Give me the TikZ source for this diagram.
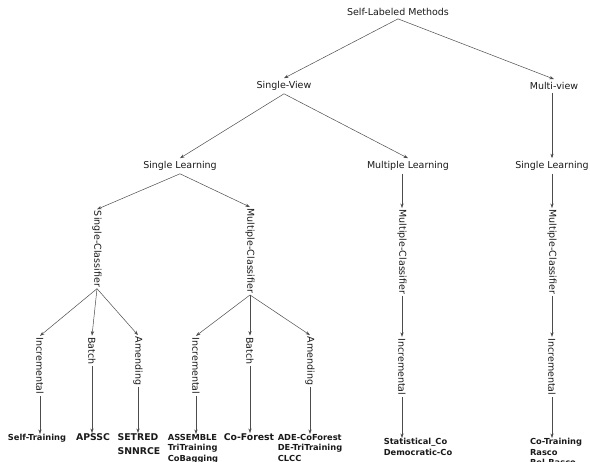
\documentclass[tikz,border=0pt]{standalone}
\usepackage{fontspec}
\setmainfont{DejaVu Sans}
\usetikzlibrary{arrows.meta}

\begin{document}
\begin{tikzpicture}[x=1pt,y=-1pt,
    lbl/.style={font=\fontsize{9.5}{11}\selectfont, text=black!90, inner sep=3pt},
    vlbl/.style={lbl, rotate=-90, inner sep=1.5pt},
    leaf/.style={font=\fontsize{8.3}{10.6}\selectfont\bfseries, text=black!90, align=left, anchor=north, inner sep=0pt},
    bigleaf/.style={leaf, font=\fontsize{9.3}{14.5}\selectfont\bfseries},
    arr/.style={draw=black!70, line width=0.5pt, -{Stealth[length=4.5pt,width=3.2pt]}}]
        \useasboundingbox (0,0) rectangle (590,462);
        % top levels
        \node[lbl] (root) at (398,12) {Self-Labeled Methods};
        \node[lbl] (sv) at (284,86) {Single-View};
        \node[lbl] (mv) at (554,86) {Multi-view};
        \node[lbl] (sl) at (180,166) {Single Learning};
        \node[lbl] (ml) at (408,166) {Multiple Learning};
        \node[lbl] (slmv) at (552,166) {Single Learning};
        % classifiers
        \node[vlbl] (sc) at (97,249) {Single-Classifier};
        \node[vlbl] (mcsl) at (250,251) {Multiple-Classifier};
        \node[vlbl] (mcml) at (402,252) {Multiple-Classifier};
        \node[vlbl] (mcmv) at (552,252) {Multiple-Classifier};
        % strategies
        \node[vlbl] (inc1) at (40,366) {Incremental};
        \node[vlbl] (bat1) at (92,351) {Batch};
        \node[vlbl] (amd1) at (138,361) {Amending};
        \node[vlbl] (inc2) at (196,366) {Incremental};
        \node[vlbl] (bat2) at (250,351) {Batch};
        \node[vlbl] (amd2) at (310,361) {Amending};
        \node[vlbl] (inc3) at (402,367) {Incremental};
        \node[vlbl] (inc4) at (552,367) {Incremental};
        % methods
        \node[leaf] (st) at (37,434) {Self-Training};
        \node[bigleaf] (ap) at (93,433) {APSSC};
        \node[bigleaf] (se) at (139,433) {SETRED\\SNNRCE};
        \node[leaf] (as) at (193,434) {ASSEMBLE\\TriTraining\\CoBagging};
        \node[bigleaf] (cf) at (249,433) {Co-Forest};
        \node[leaf] (ad) at (310,434) {ADE-CoForest\\DE-TriTraining\\CLCC};
        \node[leaf] (sd) at (418,438) {Statistical\_Co\\Democratic-Co};
        \node[leaf] (ct) at (556,438) {Co-Training\\Rasco\\Rel-Rasco};

        \draw[arr] (root.south) -- (sv.north);
        \draw[arr] (root.south) -- (mv.north);
        \draw[arr] (sv.south) -- (sl.north);
        \draw[arr] (sv.south) -- (ml.north);
        \draw[arr] (slmv.north |- mv.south) -- (slmv.north);
        \draw[arr] (sl.south) -- (sc.west);
        \draw[arr] (sl.south) -- (mcsl.west);
        \draw[arr] (mcml.west |- ml.south) -- (mcml.west);
        \draw[arr] (slmv.south) -- (mcmv.west);
        \foreach \p/\c in {sc/inc1, sc/bat1, sc/amd1, mcsl/inc2, mcsl/bat2, mcsl/amd2, mcml/inc3, mcmv/inc4}
            \draw[arr] (\p.east) -- (\c.west);
        \foreach \p/\c in {inc1/st, bat1/ap, amd1/se, inc2/as, bat2/cf, amd2/ad, inc3/sd, inc4/ct}
            \draw[arr] (\p.east) -- (\p.east |- \c.north);
    \end{tikzpicture}
\end{document}
